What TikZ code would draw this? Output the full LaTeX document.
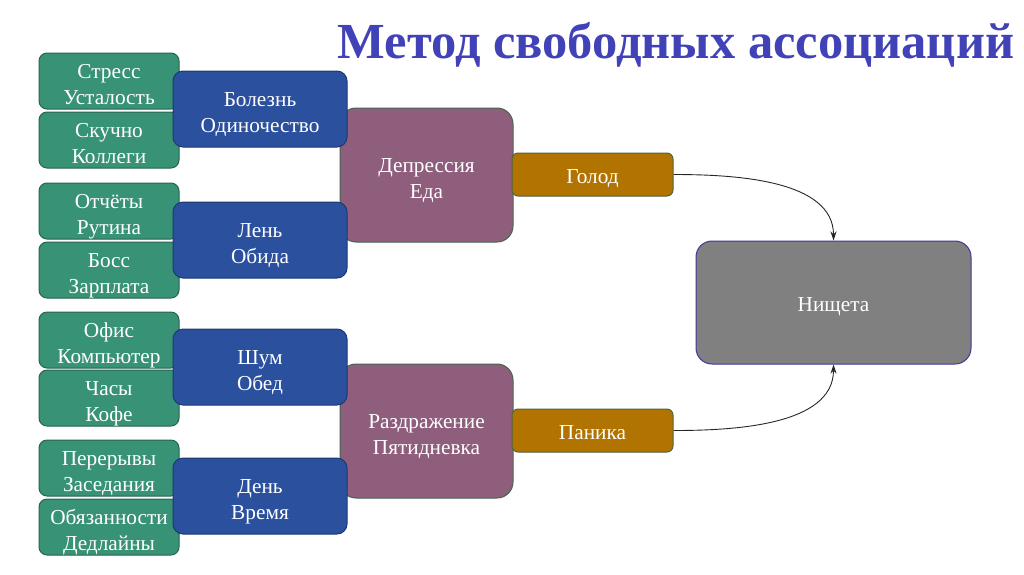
\documentclass[tikz,border=0pt]{standalone}
\usepackage{fontspec}
\setmainfont{Liberation Serif}
\usetikzlibrary{arrows.meta}
\definecolor{gfill}{RGB}{56,146,118}
\definecolor{gline}{RGB}{40,100,78}
\definecolor{bfill}{RGB}{42,80,158}
\definecolor{bline}{RGB}{30,56,112}
\definecolor{pfill}{RGB}{143,94,124}
\definecolor{pline}{RGB}{70,100,80}
\definecolor{ofill}{RGB}{177,116,0}
\definecolor{oline}{RGB}{80,100,60}
\definecolor{nfill}{RGB}{128,128,128}
\definecolor{nline}{RGB}{60,56,150}
\definecolor{ttl}{RGB}{66,66,184}
\tikzset{
  box/.style={draw, line width=1pt, inner sep=0pt, align=center, text=white, text depth=0pt,
    font=\fontsize{21.3}{26.5}\selectfont},
  twoline/.style={box, execute at begin node={\rule{0pt}{47pt}}},
  oneline/.style={box, execute at begin node={\rule{0pt}{18.5pt}}},
  gbox/.style={twoline, fill=gfill, draw=gline, minimum width=140, minimum height=56, rounded corners=8},
  bbox/.style={twoline, fill=bfill, draw=bline, minimum width=174, minimum height=76, rounded corners=10},
  pbox/.style={twoline, fill=pfill, draw=pline, minimum width=173, minimum height=134, rounded corners=16},
  obox/.style={oneline, fill=ofill, draw=oline, minimum width=161, minimum height=43, rounded corners=6},
  nbox/.style={oneline, fill=nfill, draw=nline, minimum width=275, minimum height=123, rounded corners=16},
  conn/.style={draw=black!85, line width=0.9pt, -{Stealth[length=9pt,width=6pt]}}
}
\begin{document}
\begin{tikzpicture}[x=1pt,y=-1pt]
\useasboundingbox (0,0) rectangle (1024,574);
\node[text=ttl, font=\fontsize{50.5}{60}\bfseries\selectfont, anchor=base] (title) at (676,58) {Метод свободных ассоциаций};
% green
\node[gbox] (g1) at (109,81) {Стресс\\Усталость};
\node[gbox] (g2) at (109,140) {Скучно\\Коллеги};
\node[gbox] (g3) at (109,211) {Отчёты\\Рутина};
\node[gbox] (g4) at (109,270) {Босс\\Зарплата};
\node[gbox] (g5) at (109,340) {Офис\\Компьютер};
\node[gbox] (g6) at (109,398) {Часы\\Кофе};
\node[gbox] (g7) at (109,468) {Перерывы\\Заседания};
\node[gbox] (g8) at (109,527) {Обязанности\\Дедлайны};
% purple
\node[pbox] (p1) at (426.5,175) {Депрессия\\Еда};
\node[pbox] (p2) at (426.5,431) {Раздражение\\Пятидневка};
% blue
\node[bbox] (b1) at (260,109) {Болезнь\\Одиночество};
\node[bbox] (b2) at (260,240) {Лень\\Обида};
\node[bbox] (b3) at (260,367) {Шум\\Обед};
\node[bbox] (b4) at (260,496) {День\\Время};
% orange
\node[obox] (o1) at (592.5,174.5) {Голод};
\node[obox] (o2) at (592.5,430.5) {Паника};
% result
\node[nbox] (n) at (833.5,302.5) {Нищета};
\draw[conn] (o1.east) to[out=0,in=90,looseness=0.9] (n.north);
\draw[conn] (o2.east) to[out=0,in=-90,looseness=0.9] (n.south);
\end{tikzpicture}
\end{document}
